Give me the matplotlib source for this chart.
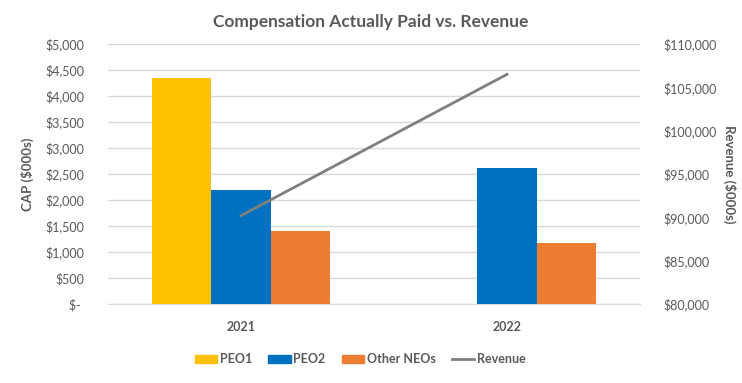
import matplotlib
matplotlib.use("Agg")
import matplotlib.pyplot as plt
import numpy as np
from matplotlib.ticker import FuncFormatter, MultipleLocator
from matplotlib.patches import Patch
from matplotlib.lines import Line2D

years = ["2021", "2022"]
peo1 = [4350, np.nan]
peo2 = [2195, 2615]
other_neos = [1405, 1175]
revenue = [90200, 106500]

plt.rcParams['font.family'] = ['Lato', 'DejaVu Sans']
GREY = "#595959"

fig = plt.figure(figsize=(7.42, 3.83), dpi=100)
ax = fig.add_axes([108/742, 1-304/383, 532/742, 260/383])
ax2 = ax.twinx()

x = np.arange(len(years))
w = 0.222
c1, c2, c3 = "#FFC000", "#0070C0", "#ED7D31"
ax.bar(x - w, peo1, w, color=c1, zorder=3)
ax.bar(x, peo2, w, color=c2, zorder=3)
ax.bar(x + w, other_neos, w, color=c3, zorder=3)
ax2.plot(x, revenue, color="#7F7F7F", lw=2, zorder=4)

ax.set_xlim(-0.5, 1.5)
ax.set_ylim(0, 5000)
ax2.set_ylim(80000, 110000)
ax.yaxis.set_major_locator(MultipleLocator(500))
ax2.yaxis.set_major_locator(MultipleLocator(5000))

def lfmt(v, p):
    return "$- " if v == 0 else "${:,.0f}".format(v)
ax.yaxis.set_major_formatter(FuncFormatter(lfmt))
ax2.yaxis.set_major_formatter(FuncFormatter(lambda v, p: "${:,.0f}".format(v)))

ax.grid(axis="y", color="#D9D9D9", lw=1, zorder=0)
ax.set_axisbelow(True)
for a in (ax, ax2):
    for s in a.spines.values():
        s.set_visible(False)
    a.tick_params(length=0, labelsize=9, colors=GREY)
ax.spines["bottom"].set_visible(True)
ax.spines["bottom"].set_color("#D9D9D9")
ax.tick_params(axis="y", pad=17)
ax2.tick_params(axis="y", pad=17)
ax.set_xticks(x)
ax.set_xticklabels(years, fontweight="bold", fontsize=9, color=GREY)
ax.tick_params(axis="x", pad=12)

ax.set_ylabel("CAP ($000s)", fontweight="bold", fontsize=9.5, color=GREY, labelpad=8)
ax2.set_ylabel("Revenue ($000s)", fontweight="bold", fontsize=9.5, color=GREY, rotation=270, labelpad=14)

fig.text(371/742, 1-22/383, "Compensation Actually Paid vs. Revenue", ha="center", va="center",
         fontsize=12.5, fontweight="bold", color=GREY)

handles = [Patch(color=c1, label="PEO1"), Patch(color=c2, label="PEO2"),
           Patch(color=c3, label="Other NEOs"), Line2D([], [], color="#7F7F7F", lw=2, label="Revenue")]
leg = fig.legend(handles=handles, loc="center", bbox_to_anchor=(360/742, 1-359/383), ncol=4,
                 frameon=False, fontsize=9, handlelength=1.8, handleheight=0.6, handletextpad=0.2,
                 columnspacing=1.3)
for t in leg.get_texts():
    t.set_color(GREY)
    t.set_fontweight("bold")

fig.savefig("out.png", dpi=100)
